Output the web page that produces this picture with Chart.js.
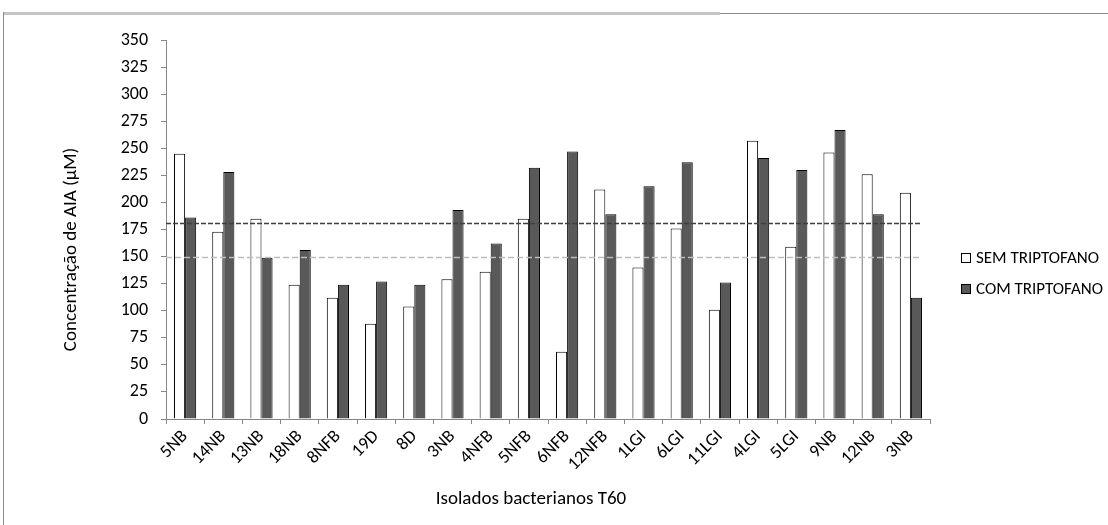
<!DOCTYPE html>
<html>
<head>
<meta charset="utf-8">
<script src="https://cdn.jsdelivr.net/npm/chart.js@4.4.0/dist/chart.umd.min.js"></script>
<style>
    html, body { margin: 0; padding: 0; background: #fff; }
    #wrap { position: relative; width: 1108px; height: 525px; overflow: hidden; }
    #frame-top { position: absolute; left: 3px; top: 12px; width: 717px; height: 3px; background: #c4c4c4; }
    #frame-top2 { position: absolute; left: 720px; top: 13px; width: 388px; height: 1px; background: #8c8c8c; }
    #frame-left { position: absolute; left: 3px; top: 12px; width: 1px; height: 513px; background: #8c8c8c; }
    canvas { position: absolute; left: 0; top: 0; }
</style>
</head>
<body>
<div id="wrap">
    <canvas id="chart" width="1108" height="525"></canvas>
    <div id="frame-top"></div>
    <div id="frame-top2"></div>
    <div id="frame-left"></div>
</div>
<script>
// Isolados e concentrações (µM)
const isolados = ['5NB', '14NB', '13NB', '18NB', '8NFB', '19D', '8D', '3NB', '4NFB', '5NFB',
    '6NFB', '12NFB', '1LGI', '6LGI', '11LGI', '4LGI', '5LGI', '9NB', '12NB', '3NB'];
const semTriptofano = [245, 173, 185, 124, 112, 88, 104, 129, 136, 185,
    62, 212, 140, 176, 101, 257, 159, 246, 226, 209];
const comTriptofano = [186, 228, 149, 156, 124, 127, 124, 193, 162, 232,
    247, 189, 215, 237, 126, 241, 230, 267, 189, 112];

// Linhas de referência (médias)
const mediaCom = 181;
const mediaSem = 150;

const yMin = 0;
const yMax = 350;
const yStep = 25;

const tituloY = 'Concentração de AIA (µM)';
const tituloX = 'Isolados bacterianos T60';

const FONT = 'Carlito, Lato, "Open Sans", sans-serif';

// Linhas tracejadas horizontais
const refLines = {
    id: 'refLines',
    afterDatasetsDraw(chart) {
        const { ctx, chartArea, scales } = chart;
        const lines = [
            { value: mediaSem, color: '#bdbdbd', dash: [6, 3] },
            { value: mediaCom, color: '#3f3f3f', dash: [5, 2] }
        ];
        ctx.save();
        lines.forEach(l => {
            const y = Math.round(scales.y.getPixelForValue(l.value)) + 0.5;
            ctx.beginPath();
            ctx.setLineDash(l.dash);
            ctx.strokeStyle = l.color;
            ctx.lineWidth = 1.5;
            ctx.moveTo(chartArea.left, y);
            ctx.lineTo(chartArea.right - 9, y);
            ctx.stroke();
        });
        ctx.restore();
    }
};

// Títulos dos eixos (posição como no original, um pouco fora do centro)
const axisTitles = {
    id: 'axisTitles',
    afterDraw(chart) {
        const { ctx, chartArea } = chart;
        const midY = (chartArea.top + chartArea.bottom) / 2;
        const midX = (chartArea.left + chartArea.right) / 2;
        ctx.save();
        ctx.font = '19px ' + FONT;
        ctx.fillStyle = '#000';
        ctx.textAlign = 'center';
        ctx.textBaseline = 'middle';
        ctx.fillText(tituloX, midX - 17, chartArea.bottom + 80);
        ctx.translate(chartArea.left - 95, midY + 20);
        ctx.rotate(-Math.PI / 2);
        ctx.fillText(tituloY, 0, 0);
        ctx.restore();
    }
};

// Legenda à direita
const sideLegend = {
    id: 'sideLegend',
    afterDraw(chart) {
        const { ctx, chartArea } = chart;
        const x = chartArea.right + 31;
        ctx.save();
        ctx.font = '17px ' + FONT;
        ctx.textBaseline = 'middle';
        chart.data.datasets.forEach((ds, i) => {
            const y = 258 + i * 31;
            ctx.fillStyle = ds.backgroundColor;
            ctx.fillRect(x + 0.5, y - 4.5, 9, 9);
            ctx.strokeStyle = '#000';
            ctx.lineWidth = 1;
            ctx.strokeRect(x + 0.5, y - 4.5, 9, 9);
            ctx.fillStyle = '#000';
            ctx.fillText(ds.label, x + 15, y + 1);
        });
        ctx.restore();
    }
};

const ctx = document.getElementById('chart').getContext('2d');
new Chart(ctx, {
    type: 'bar',
    data: {
        labels: isolados,
        datasets: [{
            label: 'SEM TRIPTOFANO',
            data: semTriptofano,
            backgroundColor: '#ffffff',
            borderColor: '#000000',
            borderWidth: 1
        }, {
            label: 'COM TRIPTOFANO',
            data: comTriptofano,
            backgroundColor: '#595959',
            borderColor: '#000000',
            borderWidth: 1
        }]
    },
    options: {
        responsive: false,
        animation: false,
        layout: {
            padding: { left: 52, top: 40, right: 178, bottom: 10 }
        },
        datasets: {
            bar: {
                categoryPercentage: 0.58,
                barPercentage: 1.0
            }
        },
        plugins: {
            legend: { display: false },
            tooltip: { enabled: false }
        },
        scales: {
            y: {
                min: yMin,
                max: yMax,
                afterFit: s => { s.width = 114; },
                ticks: {
                    stepSize: yStep,
                    color: '#000',
                    padding: 13,
                    font: { family: FONT, size: 18 }
                },
                grid: {
                    drawOnChartArea: false,
                    drawTicks: true,
                    tickLength: 5,
                    color: '#868686'
                },
                border: { color: '#868686' }
            },
            x: {
                afterFit: s => { s.height = 96; },
                ticks: {
                    color: '#000',
                    minRotation: 45,
                    maxRotation: 45,
                    padding: 2,
                    font: { family: FONT, size: 18 }
                },
                grid: {
                    offset: true,
                    drawOnChartArea: false,
                    drawTicks: true,
                    tickLength: 5,
                    color: '#868686'
                },
                border: { color: '#868686' }
            }
        }
    },
    plugins: [refLines, axisTitles, sideLegend]
});
</script>
</body>
</html>
